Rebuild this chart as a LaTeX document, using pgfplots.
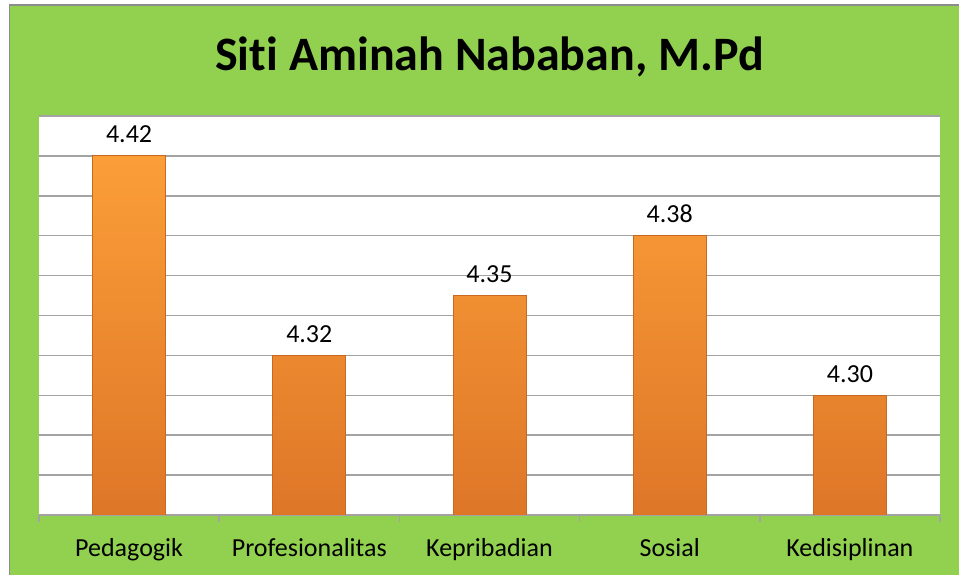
\documentclass[border=0pt]{standalone}
\usepackage{pgfplots}
\pgfplotsset{compat=1.18}
\usepackage{fontspec}
\setmainfont{Carlito}[Ligatures={NoCommon}]
\definecolor{bg}{HTML}{92D050}
\definecolor{bordergray}{HTML}{8C8C8C}
\definecolor{gridgray}{HTML}{A3A3A3}
\definecolor{otop}{HTML}{FB9E38}
\definecolor{omid}{HTML}{F99A33}
\definecolor{obot}{HTML}{DE7628}
\definecolor{oedge}{HTML}{C9681F}
\begin{document}
\begin{tikzpicture}[x=1pt,y=1pt]
\useasboundingbox (0,0) rectangle (959,575);
\fill[white] (0,0) rectangle (959,575);
\begin{scope}
\clip (0,0) rectangle (959,575);
\filldraw[fill=bg, draw=bordergray, line width=1.5pt] (9.5,-10) rectangle (975,570);
\end{scope}
\node[font=\fontsize{48}{56}\selectfont\bfseries, anchor=base, inner sep=0pt] at (489.5,504) {Sit\kern0pt i Aminah Nababan, M.Pd};
\begin{axis}[
  at={(39pt,60pt)}, anchor=south west,
  width=901pt, height=399pt, scale only axis,
  axis background/.style={fill=white},
  xmin=0.5, xmax=5.5, ymin=0, ymax=0.2,
  y filter/.expression={y-4.24},
  enlargelimits=false,
  axis lines*=left,
  y axis line style={draw=none},
  x axis line style={gridgray, line width=1.5pt},
  ytick={0,0.02,0.04,0.06,0.08,0.1,0.12,0.14,0.16,0.18,0.2},
  yticklabels={},
  ytick style={draw=none},
  ymajorgrids,
  major grid style={gridgray, line width=1.5pt},
  xtick={1,2,3,4,5},
  xticklabels={Pedagogik, Profesionalitas, Kepribadian, Sosial, Kedisiplinan},
  minor xtick={0.5,1.5,2.5,3.5,4.5,5.5},
  tick align=outside,
  major tick length=0pt,
  minor tick length=7pt,
  minor x tick style={gridgray, line width=1.5pt},
  xticklabel style={font=\fontsize{26}{30}\selectfont, text=black, yshift=-20pt},
  nodes near coords={\pgfmathprintnumber[fixed,fixed zerofill,precision=2]{\pgfplotspointmeta}},
  point meta=rawy,
  every node near coord/.append style={font=\fontsize{26}{30}\selectfont, text=black, yshift=9pt},
  /pgf/number format/assume math mode=true,
]
\addplot[ybar, bar width=73pt, top color=otop, middle color=omid, bottom color=obot, draw=oedge, line width=0.8pt]
  coordinates {(1,4.42) (2,4.32) (3,4.35) (4,4.38) (5,4.30)};
\end{axis}
\end{tikzpicture}
\end{document}
